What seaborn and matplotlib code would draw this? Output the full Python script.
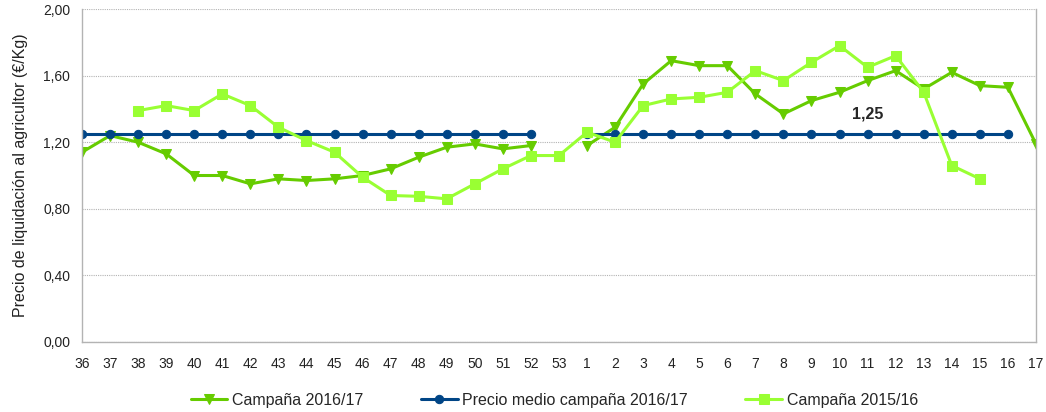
import numpy as np
import pandas as pd
import seaborn as sns
import matplotlib.pyplot as plt

sns.set_style("white")
plt.rcParams['font.family'] = ['Liberation Sans', 'DejaVu Sans']

# semanas de la campaña (36..53, 1..17)
semanas = [str(s) for s in list(range(36, 54)) + list(range(1, 18))]

nan = np.nan
campana_1617 = [1.14, 1.24, 1.20, 1.13, 1.00, 1.00, 0.95, 0.98, 0.97, 0.98, 1.00,
                1.04, 1.11, 1.17, 1.19, 1.16, 1.18, nan,
                1.18, 1.29, 1.55, 1.69, 1.66, 1.66, 1.49, 1.37, 1.45, 1.50, 1.57,
                1.63, 1.52, 1.62, 1.54, 1.53, 1.19]
precio_medio = [1.25] * 17 + [nan] + [1.25] * 16 + [nan]
campana_1516 = [nan, nan, 1.39, 1.42, 1.39, 1.49, 1.42, 1.29, 1.21, 1.14, 0.99,
                0.88, 0.875, 0.86, 0.95, 1.04, 1.12, 1.12,
                1.26, 1.20, 1.42, 1.46, 1.47, 1.50, 1.63, 1.57, 1.68, 1.78, 1.65,
                1.72, 1.50, 1.06, 0.98, nan, nan]

series = [
    ("Campaña 2016/17", campana_1617, "#66cc00", "v", 7.5),
    ("Precio medio campaña 2016/17", precio_medio, "#004586", "o", 6),
    ("Campaña 2015/16", campana_1516, "#99ff33", "s", 6.5),
]

fig = plt.figure(figsize=(10.46, 4.12), dpi=100)
ax = fig.add_axes([0.0784, 0.170, 0.912, 0.808])

x = np.arange(len(semanas))
for nombre, valores, color, marker, ms in series:
    df = pd.DataFrame({"x": x, "y": valores})
    # separar en tramos para dejar huecos donde falta el dato
    df["tramo"] = df["y"].isna().cumsum()
    df = df.dropna()
    first = True
    for _, tramo in df.groupby("tramo"):
        sns.lineplot(data=tramo, x="x", y="y", ax=ax, color=color, marker=marker,
                     markersize=ms, markeredgecolor=color, linewidth=2.2,
                     label=nombre if first else None, legend=False)
        first = False

ax.text(28, 1.37, "1,25", ha="center", va="center", fontsize=11.5, fontweight="bold")

ax.set_xlim(0, len(semanas) - 1)
ax.set_ylim(0, 2.0)
ax.set_xticks(x)
ax.set_xticklabels(semanas)
yt = np.arange(0, 2.01, 0.4)
ax.set_yticks(yt)
ax.set_yticklabels([f"{v:.2f}".replace(".", ",") for v in yt])
ax.set_xlabel("")
ax.set_ylabel("Precio de liquidación al agricultor (€/Kg)", fontsize=11.5,
              color="#222222", labelpad=11)
ax.yaxis.grid(True, linestyle=(0, (1, 1)), color="#b3b3b3", linewidth=0.8)
ax.set_axisbelow(True)
ax.tick_params(axis="both", length=5, width=0.8, color="#b3b3b3", labelsize=10,
               labelcolor="#222222", direction="out")
ax.tick_params(axis="x", pad=6)
for side in ["left", "bottom", "right"]:
    ax.spines[side].set_color("#b3b3b3")
    ax.spines[side].set_linewidth(1.0)
ax.spines["top"].set_visible(False)

handles, labels = ax.get_legend_handles_labels()
fig.legend(handles, labels, loc="lower center", ncol=3, frameon=False,
           bbox_to_anchor=(0.53, -0.025), fontsize=11.5, columnspacing=3.6,
           handlelength=2.3, handletextpad=0.3)

fig.savefig("out.png", dpi=100)
